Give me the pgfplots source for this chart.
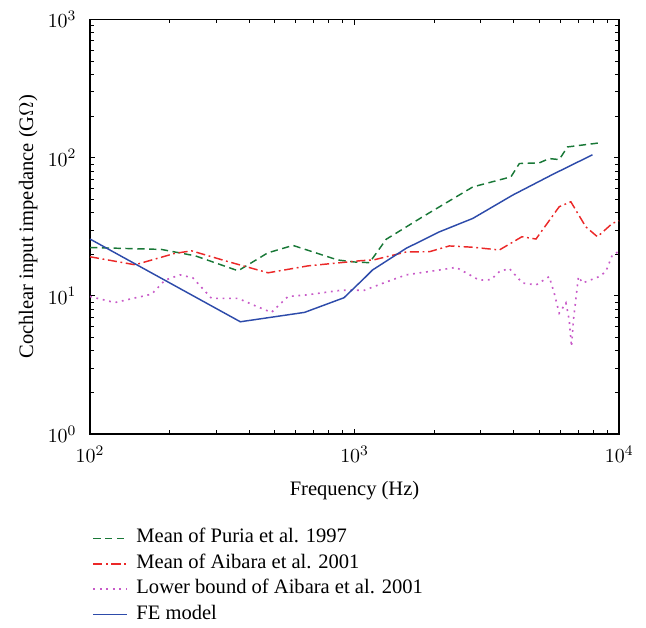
\documentclass[border=0pt]{standalone}
\usepackage{pgfplots}
\pgfplotsset{compat=1.18}
\usepackage{fontspec}
\setmainfont{Liberation Serif}
\definecolor{puria}{RGB}{25,120,55}
\definecolor{aibara}{RGB}{235,40,40}
\definecolor{lowb}{RGB}{200,90,200}
\definecolor{femod}{RGB}{45,75,170}
\begin{document}
\begin{tikzpicture}
\begin{axis}[
  width=291pt,height=228pt,scale only axis,
  xmode=log,ymode=log,
  xmin=100,xmax=10000,ymin=1,ymax=1000,
  xlabel={Frequency (Hz)},
  ylabel={Cochlear input impedance (G$\Omega$)},
  tick align=inside,
  major tick length=3pt,minor tick length=2pt,
  axis line style={line width=0.8pt},
  every tick/.style={black,line width=0.5pt},
  label style={font=\fontsize{11.3}{13}\selectfont},
  tick label style={font=\fontsize{11}{13}\selectfont},
  xticklabel style={yshift=-3pt},
  yticklabel style={xshift=-4pt},
  xlabel style={at={(0.5,-31pt)},anchor=center},
  ylabel style={at={(-34pt,0.5)},anchor=center,rotate=0},
  clip=false,
  legend style={at={(0.004,-0.220)},anchor=north west,draw=none,fill=none,
    font=\fontsize{11.3}{13}\selectfont,row sep=0pt,inner sep=0pt,
    nodes={text height=8pt,text depth=3pt,inner sep=1.5pt}},
  legend cell align=left,
  legend image code/.code={\draw[#1] (0cm,0cm) -- (0.66cm,0cm); \path (0.765cm,0cm);},
]
\addplot[puria,line width=0.8pt,dash pattern=on 4pt off 2.5pt] coordinates {
(100,22.4)(186,21.7)(250,19.5)(363,15.2)(470,20.5)(585,23.2)(864,18.2)(1000,17.6)(1139,17.4)
(1317,25.7)(1810,37.4)(2800,61.5)(3900,72.7)(4197,90.8)(4990,91.8)(5443,98.6)(5937,97)
(6383,119.7)(8411,128)};
\addlegendentry{Mean of Puria et al. 1997}
\addplot[aibara,line width=0.8pt,dash pattern=on 5pt off 2pt on 1pt off 2pt] coordinates {
(100,19.2)(148,16.8)(209,20.3)(242,21.2)(333,17.7)(471,14.7)(667,16.5)(1059,18.0)(1178,18.2)
(1567,20.8)(1921,20.9)(2282,23.0)(2800,22.5)(3526,21.5)(4291,26.8)(4850,25.8)(5937,44.2)
(6570,48)(7485,31.6)(8280,26.8)(9430,33.5)(10000,35)};
\addlegendentry{Mean of Aibara et al. 2001}
\addplot[lowb,line width=0.9pt,dash pattern=on 1pt off 2.6pt] coordinates {
(100,9.9)(124,8.95)(171,10.3)(192,13.0)(219,14.2)(245,13.5)(288,9.6)(363,9.6)(420,8.5)(485,7.6)
(560,9.9)(667,10.2)(891,11.0)(1091,11.0)(1300,12.5)(1567,14.2)(2094,15.4)(2419,16.1)(2963,13.0)
(3281,13.1)(3526,15.0)(3846,15.8)(4315,12.4)(4850,12.0)(5443,13.8)(5684,10.5)(5937,7.5)
(6295,8.9)(6478,6.7)(6607,4.3)(6720,6.7)(7019,13.8)(7280,12.4)(8411,13.8)(8910,15.0)(9430,19.8)(10000,21)};
\addlegendentry{Lower bound of Aibara et al. 2001}
\addplot[femod,line width=0.8pt] coordinates {
(100,25.8)(370,6.5)(647,7.6)(912,9.7)(1091,13.5)(1169,15.4)(1567,22.1)(2094,29.1)(2800,36.4)
(3957,53.6)(5599,75.6)(7930,105)};
\addlegendentry{FE model}
\coordinate (O) at (rel axis cs:0,0);
\end{axis}
\path (O) ++(-49.5pt,-105pt) rectangle ++(355.3pt,343.75pt);
\end{tikzpicture}
\end{document}
